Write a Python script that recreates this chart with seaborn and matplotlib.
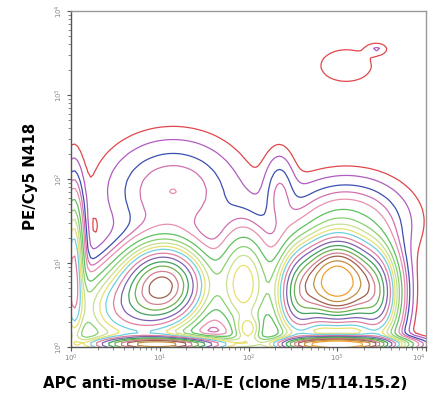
import numpy as np
import pandas as pd
import matplotlib
matplotlib.use("Agg")
import matplotlib.pyplot as plt
import seaborn as sns
from matplotlib.ticker import FixedLocator, NullFormatter

# ---- data: cell populations (positions in log10 decades) ----
pop_x  = [1.05, 0.65, 3.00, 2.55, 3.45, 1.00, 3.00, 0.03, 1.95, 2.00, 1.15, 3.10, 2.35, 3.10, 3.45]
pop_y  = [0.75, 0.45, 0.78, 0.60, 0.60, 0.03, 0.03, 0.90, 0.75, 0.20, 1.85, 1.50, 1.85, 3.35, 3.55]
pop_sx = [0.28, 0.38, 0.25, 0.15, 0.15, 0.45, 0.38, 0.05, 0.18, 0.08, 0.45, 0.40, 0.10, 0.30, 0.06]
pop_sy = [0.28, 0.30, 0.30, 0.35, 0.35, 0.05, 0.05, 0.55, 0.40, 0.10, 0.38, 0.30, 0.30, 0.20, 0.04]
pop_w  = [0.15, 0.09, 0.24, 0.06, 0.06, 0.06, 0.07, 0.035, 0.05, 0.004, 0.032, 0.03, 0.004, 0.0022, 0.00015]

x_ticks = [0, 1, 2, 3, 4]
y_ticks = [0, 1, 2, 3, 4]
x_ticklabels = ["$10^{0}$", "$10^{1}$", "$10^{2}$", "$10^{3}$", "$10^{4}$"]
y_ticklabels = ["$10^{0}$", "$10^{1}$", "$10^{2}$", "$10^{3}$", "$10^{4}$"]
xlabel = "APC anti-mouse I-A/I-E (clone M5/114.15.2)"
ylabel = "PE/Cy5 N418"

levels = [0.006, 0.015, 0.03, 0.05, 0.08, 0.11, 0.15, 0.2, 0.26, 0.32,
          0.39, 0.46, 0.54, 0.62, 0.7, 0.78, 0.86, 0.93]
colors = ["#e0474c", "#b05cc0", "#3b4fb0", "#d070b0", "#e890b0", "#60c060",
          "#88d070", "#c8e090", "#e8e070", "#70d0e0", "#e080a0", "#8060b0",
          "#40a060", "#70b050", "#d08090", "#a06050", "#c09040", "#f0a030"]

# ---- build weighted event grid from the populations ----
g = np.arange(-0.2, 4.2, 0.04)
GX, GY = np.meshgrid(g, g)
W = np.zeros_like(GX)
for mx, my, sx, sy, w in zip(pop_x, pop_y, pop_sx, pop_sy, pop_w):
    W += w / (sx * sy) * np.exp(-0.5 * (((GX - mx) / sx) ** 2 + ((GY - my) / sy) ** 2))
df = pd.DataFrame({"x": GX.ravel(), "y": GY.ravel(), "w": W.ravel()})
df = df[df.w > df.w.max() * 1e-7]

fig = plt.figure(figsize=(4.30, 4.03), dpi=100)
ax = fig.add_axes([71 / 430, 1 - 347 / 403, 355 / 430, 336 / 403])

sns.kdeplot(data=df, x="x", y="y", weights="w", levels=levels, colors=colors,
            bw_method=0.045, gridsize=160, linewidths=0.9, ax=ax)

ax.set_xlim(0, 4)
ax.set_ylim(0, 4)
ax.xaxis.set_major_locator(FixedLocator(x_ticks))
ax.yaxis.set_major_locator(FixedLocator(y_ticks))
ax.set_xticklabels(x_ticklabels, fontsize=5, color="#888888")
ax.set_yticklabels(y_ticklabels, fontsize=5, color="#888888", rotation=90, va="center")
ax.get_xticklabels()[-1].set_ha("right")
minor = [d + np.log10(k) for d in range(4) for k in range(2, 10)]
ax.xaxis.set_minor_locator(FixedLocator(minor))
ax.yaxis.set_minor_locator(FixedLocator(minor))
ax.xaxis.set_minor_formatter(NullFormatter())
ax.yaxis.set_minor_formatter(NullFormatter())
ax.tick_params(which="major", length=3, width=0.8, color="#555555", pad=1)
ax.tick_params(which="minor", length=2, width=0.6, color="#777777")
for s in ["top", "right"]:
    ax.spines[s].set_color("#999999")
for s in ["left", "bottom"]:
    ax.spines[s].set_color("#555555")
for s in ax.spines.values():
    s.set_linewidth(1.0)
ax.set_xlabel("")
ax.set_ylabel("")
fig.text(225 / 430, 1 - 384 / 403, xlabel, ha="center", va="center",
         fontsize=10.8, fontweight="bold")
fig.text(30 / 430, 1 - 176 / 403, ylabel, ha="center", va="center",
         fontsize=10.8, fontweight="bold", rotation=90)
fig.savefig("out.png", dpi=100)
